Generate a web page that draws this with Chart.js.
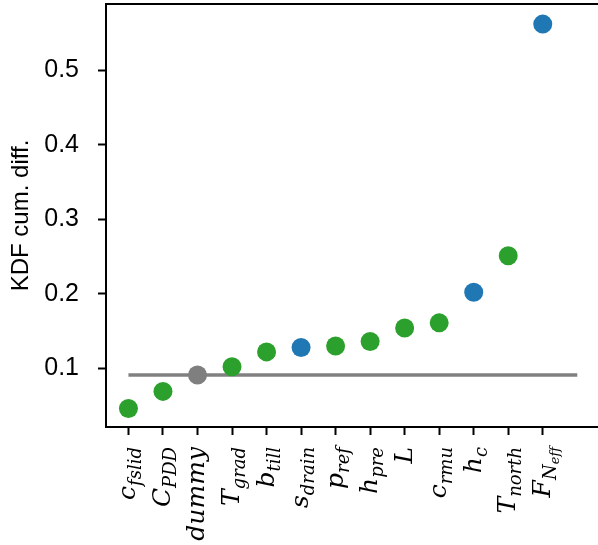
<!DOCTYPE html>
<html>
<head>
<meta charset="utf-8">
<script src="https://cdn.jsdelivr.net/npm/chart.js@4"></script>
<style>
  html, body { margin: 0; padding: 0; background: #fff; }
  #wrap { width: 598px; height: 545px; }
</style>
</head>
<body>
<div id="wrap"><canvas id="chart"></canvas></div>
<script>
const xLabels = ["c_{fslid}", "C_{PDD}", "dummy", "T_{grad}", "b_{till}", "s_{drain}", "p_{ref}",
    "h_{pre}", "L", "c_{rmu}", "h_{c}", "T_{north}", "F_{N_{eff}}"];
const kdfValues = [0.046, 0.069, 0.091, 0.102, 0.122, 0.128, 0.130, 0.136, 0.154, 0.161, 0.202, 0.251, 0.562];
const groups = ["g", "g", "d", "g", "g", "b", "g", "g", "g", "g", "b", "g", "b"];
const dummyLevel = 0.091;
const yTicks = [0.1, 0.2, 0.3, 0.4, 0.5];

const groupColors = {g: "#2ca02c", b: "#1f77b4", d: "#7f7f7f"};

// tiny tex-ish parser: "F_{N_{eff}}" -> [{t:"F",lvl:0},{t:"N",lvl:1},{t:"eff",lvl:2}]
const parseTex = (s, lvl = 0) => {
    let out = [];
    let i = 0;
    while (i < s.length) {
        if (s[i] === "_") {
            i++;
            if (s[i] === "{") {
                let depth = 1, j = i + 1;
                while (depth > 0) {
                    if (s[j] === "{") depth++;
                    if (s[j] === "}") depth--;
                    j++;
                }
                out = out.concat(parseTex(s.slice(i + 1, j - 1), lvl + 1));
                i = j;
            } else {
                out.push({t: s[i], lvl: lvl + 1});
                i++;
            }
        } else {
            out.push({t: s[i], lvl: lvl});
            i++;
        }
    }
    return out;
};

const sizes = [25, 18, 13];
const drops = [0, 6, 9];

const noPad = s => { s.paddingTop = 0; s.paddingBottom = 0; s.paddingLeft = 0; s.paddingRight = 0; };

const texLabels = {
    id: "texLabels",
    afterDraw(chart) {
        const ctx = chart.ctx;
        const xs = chart.scales.x;
        const area = chart.chartArea;
        ctx.save();
        // top spine
        ctx.strokeStyle = "#000";
        ctx.lineWidth = 2;
        ctx.beginPath();
        ctx.moveTo(area.left, area.top);
        ctx.lineTo(area.right, area.top);
        ctx.stroke();

        ctx.fillStyle = "#000";
        ctx.textBaseline = "alphabetic";
        xLabels.forEach((lab, i) => {
            const segs = parseTex(lab);
            let w = 0;
            segs.forEach(sg => {
                ctx.font = "italic " + sizes[sg.lvl] + "px 'DejaVu Serif'";
                sg.w = ctx.measureText(sg.t).width;
                w += sg.w;
            });
            const px = xs.getPixelForValue(i);
            ctx.save();
            ctx.translate(px, area.bottom + 20);
            ctx.rotate(-Math.PI / 2);
            let cx = -w;
            segs.forEach(sg => {
                ctx.font = "italic " + sizes[sg.lvl] + "px 'DejaVu Serif'";
                ctx.fillText(sg.t, cx, 7 + drops[sg.lvl]);
                cx += sg.w;
            });
            ctx.restore();
        });
        ctx.restore();
    }
};

new Chart(document.getElementById("chart"), {
    type: "scatter",
    data: {
        datasets: [{
            data: kdfValues.map((v, i) => ({x: i, y: v})),
            pointBackgroundColor: groups.map(g => groupColors[g]),
            pointBorderWidth: 0,
            pointRadius: 9.5,
            pointHoverRadius: 9.5,
            order: 0
        }, {
            type: "line",
            data: [{x: 0, y: dummyLevel}, {x: xLabels.length, y: dummyLevel}],
            borderColor: "#808080",
            borderWidth: 3.5,
            pointRadius: 0,
            order: 1
        }]
    },
    options: {
        responsive: true,
        maintainAspectRatio: false,
        animation: false,
        layout: {autoPadding: false, padding: {top: 4, right: 0, left: 0, bottom: 0}},
        plugins: {legend: {display: false}, tooltip: {enabled: false}},
        scales: {
            x: {
                type: "linear",
                min: -0.65,
                max: 13.6,
                afterBuildTicks: s => { s.ticks = xLabels.map((_, i) => ({value: i})); },
                afterFit: s => { s.height = 118; noPad(s); },
                ticks: {display: false},
                grid: {drawOnChartArea: false, tickLength: 8, tickWidth: 2, tickColor: "#000"},
                border: {color: "#000", width: 2}
            },
            y: {
                min: 0.0212,
                max: 0.589,
                afterBuildTicks: s => { s.ticks = yTicks.map(v => ({value: v})); },
                afterFit: s => { s.width = 106; noPad(s); },
                ticks: {
                    color: "#000",
                    padding: 19,
                    font: {family: "'Liberation Sans', Arial", size: 25},
                    callback: v => v.toFixed(1)
                },
                title: {
                    display: true,
                    text: "KDF cum. diff.",
                    color: "#000",
                    padding: {top: 7, bottom: 0},
                    font: {family: "'Liberation Sans', Arial", size: 24}
                },
                grid: {drawOnChartArea: false, tickLength: 8, tickWidth: 2, tickColor: "#000"},
                border: {color: "#000", width: 2}
            }
        }
    },
    plugins: [texLabels]
});
</script>
</body>
</html>
